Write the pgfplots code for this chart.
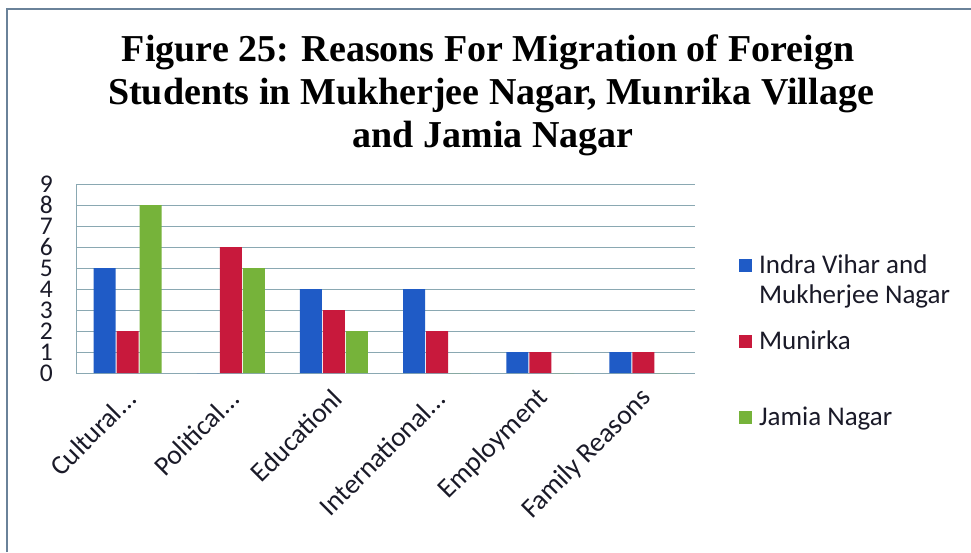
\documentclass[border=0pt]{standalone}
\usepackage{pgfplots}
\pgfplotsset{compat=1.18}
\usepackage{pgfplotstable}
\usepackage{fontspec}
\setmainfont{Carlito}
\newfontfamily\titlefont{Liberation Serif}
\definecolor{cblue}{HTML}{1F5BC6}
\definecolor{cred}{HTML}{C8193C}
\definecolor{cgreen}{HTML}{76B33A}
\definecolor{cgrid}{HTML}{8AA8B2}
\definecolor{ctext}{HTML}{1A1A28}
\definecolor{cborder}{HTML}{6A8299}
\newcommand{\dd}{...}
\pgfplotstableread{
x a b c
0 5 2 8
1 0 6 5
2 4 3 2
3 4 2 0
4 1 1 0
5 1 1 0
}\datatable
\begin{document}
\begin{tikzpicture}[x=1pt,y=1pt]
\useasboundingbox (0,0) rectangle (971,552);
\fill[white] (0,0) rectangle (971,552);
\draw[cborder, line width=2pt] (7,0) -- (7,543) -- (971,543);
\node[anchor=base, font=\titlefont\bfseries\fontsize{38}{44}\selectfont, text=black, inner sep=0pt] at (488,490) {Figure 25: Reasons For Migration of Foreign};
\node[anchor=base, font=\titlefont\bfseries\fontsize{38}{44}\selectfont, text=black, inner sep=0pt] at (491,447) {Students in Mukherjee Nagar, Munrika Village};
\node[anchor=base, font=\titlefont\bfseries\fontsize{38}{44}\selectfont, text=black, inner sep=0pt] at (493,404) {and Jamia Nagar};
\begin{axis}[
  at={(76pt,179pt)}, anchor=south west,
  scale only axis, width=619pt, height=189pt,
  ybar=1pt, bar width=22pt,
  xmin=-0.5, xmax=5.5, ymin=0, ymax=9,
  xtick=data,
  xticklabels={{Cultural\dd},{Political\dd},{Educationl},{International\dd},{Employment},{Family Reasons}},
  ytick={0,1,2,3,4,5,6,7,8,9},
  ymajorgrids, grid style={cgrid, line width=1pt},
  axis x line=bottom, axis y line=left,
  axis line style={cgrid, line width=1pt, -},
  major tick length=0pt,
  /pgf/number format/assume math mode=true,
  yticklabel style={font=\fontsize{25.5}{30}\selectfont, text=ctext, anchor=east, inner sep=0pt, xshift=-23pt},
  xticklabel style={font=\fontsize{27.5}{30}\selectfont, text=ctext, inner sep=0pt, xshift=4pt, yshift=-21pt, rotate=45, anchor=east},
  legend image code/.code={\fill[#1,draw=none] (0pt,1pt) rectangle (13pt,14pt);},
  legend style={at={(1.0711,0.6455)}, anchor=north west, draw=none, fill=none, inner sep=0pt, outer sep=0pt, row sep=9pt, column sep=7pt, cells={anchor=base west}, nodes={inner sep=0pt, text=ctext, text height=22pt, text depth=45pt}, font=\fontsize{27}{30}\selectfont},
]
\addplot[fill=cblue, draw=none] table[x=x,y=a]{\datatable};
\addlegendentry{\begin{tabular}[t]{@{}l@{}}Indra Vihar and\\Mukherjee Nagar\end{tabular}}
\addplot[fill=cred, draw=none] table[x=x,y=b]{\datatable};
\addlegendentry{Munirka}
\addplot[fill=cgreen, draw=none] table[x=x,y=c]{\datatable};
\addlegendentry{Jamia Nagar}
\end{axis}
\end{tikzpicture}
\end{document}
